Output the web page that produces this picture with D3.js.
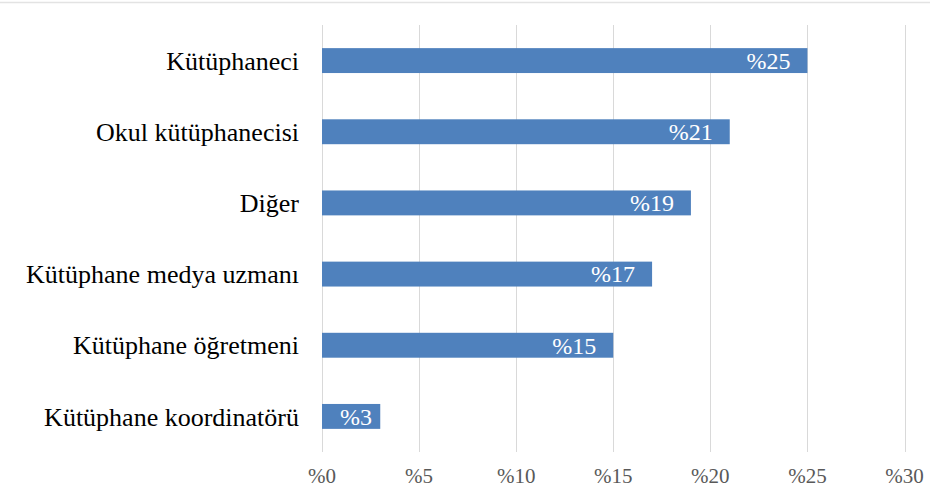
<!DOCTYPE html>
<html>
<head>
<meta charset="utf-8">
<script src="https://cdn.jsdelivr.net/npm/d3@7"></script>
<style>
  body { margin: 0; background: #fff; }
</style>
</head>
<body>
<div id="vis-container"></div>
<script>
// data
const categories = ["Kütüphaneci", "Okul kütüphanecisi", "Diğer", "Kütüphane medya uzmanı", "Kütüphane öğretmeni", "Kütüphane koordinatörü"];
const values = [25, 21, 19, 17, 15, 3];
const ticks = [0, 5, 10, 15, 20, 25, 30];

const width = 930;
const height = 493;
const margin = { top: 25, right: 25, bottom: 41, left: 322 };
const serif = "'Liberation Serif', 'DejaVu Serif', serif";

const svg = d3.select("#vis-container")
  .append("svg")
  .attr("width", width)
  .attr("height", height)
  .attr("font-family", serif);

// thin border line at top
svg.append("line")
  .attr("x1", 0).attr("x2", width)
  .attr("y1", 2.5).attr("y2", 2.5)
  .attr("stroke", "#e3e3e3")
  .attr("stroke-width", 1.5);

const x = d3.scaleLinear()
  .domain([0, 30])
  .range([margin.left, 904.5]);

const y = d3.scaleBand()
  .domain(categories)
  .range([margin.top, height - margin.bottom])
  .paddingInner(0.65)
  .paddingOuter(0.325);

// gridlines
svg.append("g")
  .selectAll("line")
  .data(ticks)
  .join("line")
    .attr("x1", d => Math.round(x(d)) + 0.5)
    .attr("x2", d => Math.round(x(d)) + 0.5)
    .attr("y1", margin.top)
    .attr("y2", height - margin.bottom)
    .attr("stroke", "#d9d9d9")
    .attr("stroke-width", 1);

// x tick labels
svg.append("g")
  .selectAll("text")
  .data(ticks)
  .join("text")
    .attr("x", d => x(d))
    .attr("y", 476)
    .attr("dy", "0.35em")
    .attr("text-anchor", "middle")
    .attr("fill", "#595959")
    .attr("font-family", serif)
    .style("font-size", "21px")
    .text(d => "%" + d);

// bars
svg.append("g")
  .selectAll("rect")
  .data(values)
  .join("rect")
    .attr("x", x(0))
    .attr("y", (d, i) => y(categories[i]))
    .attr("width", d => x(d) - x(0))
    .attr("height", y.bandwidth())
    .attr("fill", "#4f81bd");

// value labels
svg.append("g")
  .selectAll("text")
  .data(values)
  .join("text")
    .attr("x", d => Math.max(x(d) - 17, x(0) + 50))
    .attr("y", (d, i) => y(categories[i]) + y.bandwidth() / 2)
    .attr("dy", "0.35em")
    .attr("text-anchor", "end")
    .attr("fill", "#fff")
    .attr("font-family", serif)
    .style("font-size", "24px")
    .text(d => "%" + d);

// category labels
svg.append("g")
  .selectAll("text")
  .data(categories)
  .join("text")
    .attr("x", margin.left - 23)
    .attr("y", d => y(d) + y.bandwidth() / 2)
    .attr("dy", "0.35em")
    .attr("text-anchor", "end")
    .attr("fill", "#000")
    .attr("font-family", serif)
    .style("font-size", "26px")
    .text(d => d);
</script>
</body>
</html>
